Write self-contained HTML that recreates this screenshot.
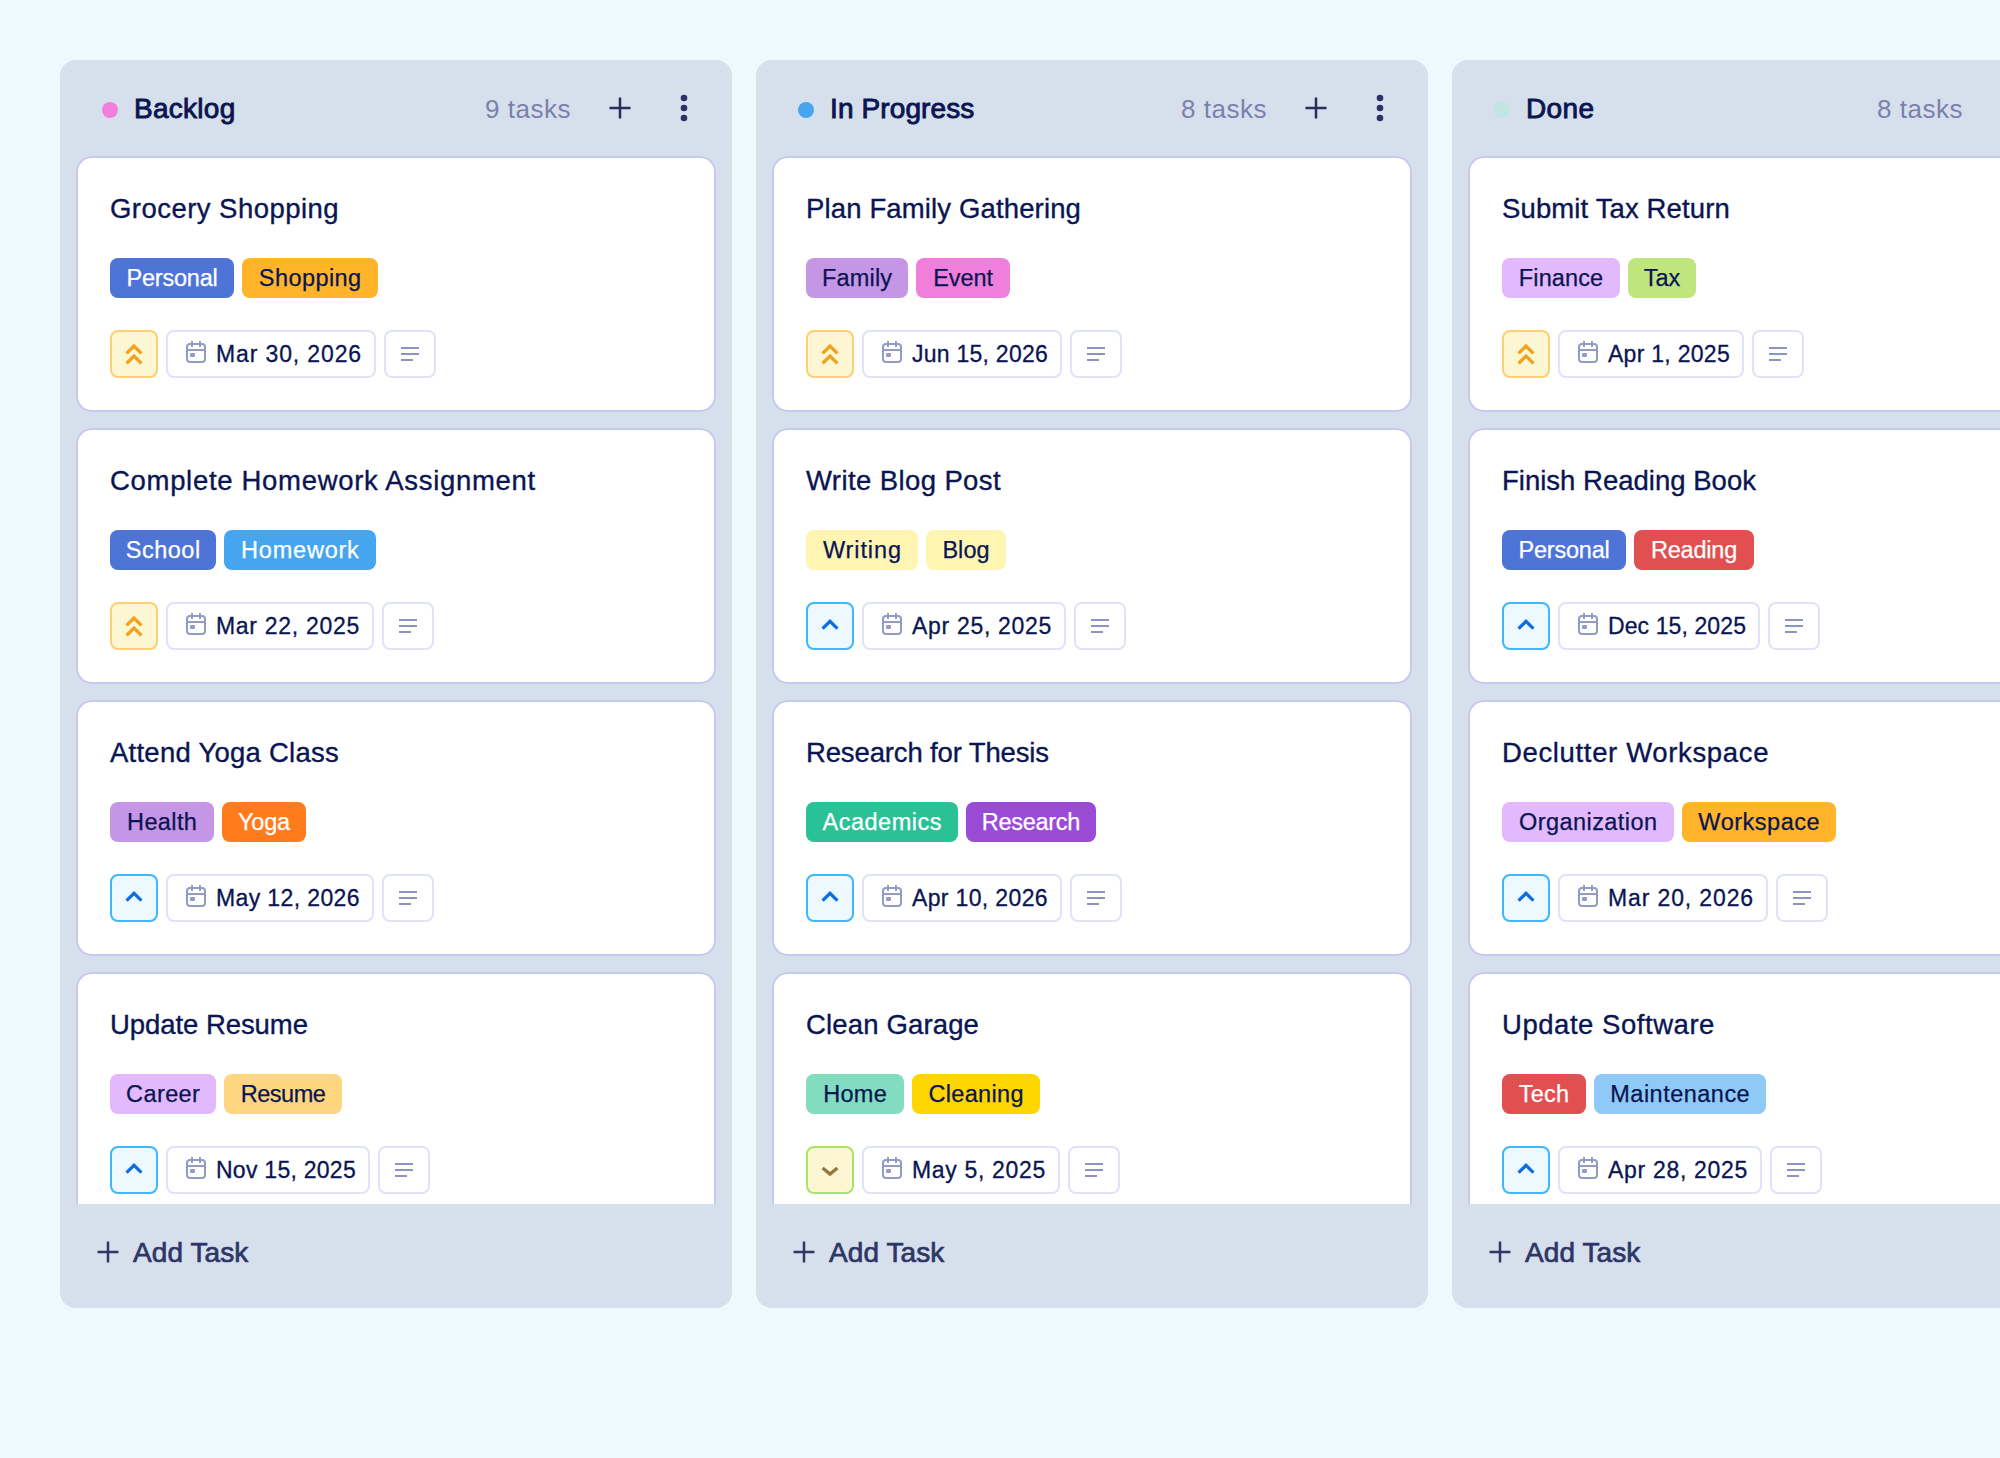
<!DOCTYPE html><html><head><meta charset="utf-8"><title>Board</title><style>
*{box-sizing:border-box;margin:0;padding:0}
html,body{width:2000px;height:1458px;overflow:hidden;background:#edf8ff}
body{font-family:"Liberation Sans",sans-serif;color:#0a1551;position:relative}
.page{position:absolute;left:0;top:0;width:2000px;height:1458px;overflow:hidden;background:#edf8ff}
.col{position:absolute;top:60px;width:672px;height:1248px;background:#d6e0ec;border-radius:16px;overflow:hidden}
.head{position:relative;height:96px}
.dot{position:absolute;left:42px;top:42px;width:16px;height:16px;border-radius:50%}
.name{position:absolute;left:74px;top:29px;height:40px;line-height:40px;font-size:28px;white-space:nowrap;-webkit-text-stroke:0.9px #0a1551}
.count{position:absolute;left:425px;top:29px;height:40px;line-height:40px;font-size:26px;color:#7a81ae;white-space:nowrap}
.hplus{position:absolute;left:548px;top:36px}
.hdots{position:absolute;left:620px;top:34px}
.cards{height:1048px;overflow:hidden;padding:0 16px}
.card{position:relative;height:256px;border:2px solid #c6cbee;border-radius:16px;background:#fff;margin-bottom:16px}
.title{position:absolute;left:32px;top:31px;height:40px;line-height:40px;font-size:27.5px;white-space:nowrap;-webkit-text-stroke:0.35px #0a1551}
.tags{position:absolute;left:32px;top:100px;display:flex;gap:8px}
.tag{height:40px;line-height:41px;border-radius:8px;font-size:23.5px;text-align:center;white-space:nowrap;-webkit-text-stroke:0.25px}
.meta{position:absolute;left:32px;top:172px;display:flex;gap:8px;height:48px}
.pri{width:48px;height:48px;border:2px solid;border-radius:8px}
.pri svg{display:block}
.pri.high{background:#fdf6d3;border-color:#ffd071}
.pri.med{background:#eef8ff;border-color:#40b6fb}
.pri.low{background:#fdf6d3;border-color:#abe36a}
.date{position:relative;height:48px;border:2px solid #e0e3f7;border-radius:8px;background:#fff}
.date .cal{position:absolute;left:16px;top:8px}
.date span{position:absolute;left:48px;top:4px;height:36px;line-height:37px;font-size:23px;white-space:nowrap;-webkit-text-stroke:0.3px #0a1551}
.desc{width:52px;height:48px;border:2px solid #e0e3f7;border-radius:8px;background:#fff}
.desc svg{display:block}
.foot{position:relative;height:104px}
.fplus{position:absolute;left:36px;top:36px}
.add{position:absolute;left:73px;top:29px;height:40px;line-height:40px;font-size:28px;color:#2e3667;white-space:nowrap;-webkit-text-stroke:0.7px #2e3667}
</style></head><body><div class="page">
<div class="col" style="left:60px">
<div class="head"><span class="dot" style="background:#f27fdc"></span><span class="name" style="letter-spacing:0.27px">Backlog</span><span class="count" style="letter-spacing:0.52px">9 tasks</span><svg class="hplus" width="24" height="24" viewBox="0 0 24 24"><path d="M12 1.5v21M1.5 12h21" stroke="#262e5c" stroke-width="2.5" fill="none"/></svg><svg class="hdots" width="8" height="28" viewBox="0 0 8 28" fill="#2b3265"><circle cx="4" cy="4" r="3.3"/><circle cx="4" cy="14" r="3.3"/><circle cx="4" cy="24" r="3.3"/></svg></div>
<div class="cards">
<div class="card">
<div class="title" style="letter-spacing:0.46px">Grocery Shopping</div>
<div class="tags">
<span class="tag" style="width:124px;background:#4f74d8;color:#fff;letter-spacing:-0.21px;padding-left:-0.21px">Personal</span>
<span class="tag" style="width:136px;background:#ffb42a;color:#0a1551;letter-spacing:0.43px;padding-left:0.43px">Shopping</span>
</div>
<div class="meta"><div class="pri high"><svg width="44" height="44" viewBox="0 0 44 44" fill="none" stroke="#efa31a" stroke-width="3.3" stroke-linecap="butt" stroke-linejoin="miter"><path d="M14.6 21.3L22 14L29.4 21.3M14.6 31.3L22 24L29.4 31.3"/></svg></div><div class="date" style="width:210px"><svg class="cal" width="24" height="24" viewBox="0 0 24 24" fill="none" stroke="#949bc7" stroke-width="2"><rect x="3" y="4" width="18" height="18" rx="3"/><path d="M8 1v6M16 1v6M3 10h18" stroke-linecap="butt"/><rect x="6" y="13" width="5" height="4" rx="1" fill="#949bc7" stroke="none"/></svg><span style="letter-spacing:0.87px">Mar 30, 2026</span></div><div class="desc"><svg width="48" height="44" viewBox="0 0 48 44"><path d="M15 16h18M15 22h18M15 28h12" stroke="#8d94c2" stroke-width="1.9" fill="none"/></svg></div></div>
</div>
<div class="card">
<div class="title" style="letter-spacing:0.69px">Complete Homework Assignment</div>
<div class="tags">
<span class="tag" style="width:106px;background:#4f74d8;color:#fff;letter-spacing:0.49px;padding-left:0.49px">School</span>
<span class="tag" style="width:152px;background:#45a6ef;color:#fff;letter-spacing:0.78px;padding-left:0.78px">Homework</span>
</div>
<div class="meta"><div class="pri high"><svg width="44" height="44" viewBox="0 0 44 44" fill="none" stroke="#efa31a" stroke-width="3.3" stroke-linecap="butt" stroke-linejoin="miter"><path d="M14.6 21.3L22 14L29.4 21.3M14.6 31.3L22 24L29.4 31.3"/></svg></div><div class="date" style="width:208px"><svg class="cal" width="24" height="24" viewBox="0 0 24 24" fill="none" stroke="#949bc7" stroke-width="2"><rect x="3" y="4" width="18" height="18" rx="3"/><path d="M8 1v6M16 1v6M3 10h18" stroke-linecap="butt"/><rect x="6" y="13" width="5" height="4" rx="1" fill="#949bc7" stroke="none"/></svg><span style="letter-spacing:0.7px">Mar 22, 2025</span></div><div class="desc"><svg width="48" height="44" viewBox="0 0 48 44"><path d="M15 16h18M15 22h18M15 28h12" stroke="#8d94c2" stroke-width="1.9" fill="none"/></svg></div></div>
</div>
<div class="card">
<div class="title" style="letter-spacing:0.25px">Attend Yoga Class</div>
<div class="tags">
<span class="tag" style="width:104px;background:#c696e6;color:#0a1551;letter-spacing:0.39px;padding-left:0.39px">Health</span>
<span class="tag" style="width:84px;background:#ff7b1c;color:#fff;letter-spacing:-0.18px;padding-left:-0.18px">Yoga</span>
</div>
<div class="meta"><div class="pri med"><svg width="44" height="44" viewBox="0 0 44 44" fill="none" stroke="#0b6fde" stroke-width="3.3" stroke-linecap="butt" stroke-linejoin="miter"><path d="M14.6 24.7L22 17.4L29.4 24.7"/></svg></div><div class="date" style="width:208px"><svg class="cal" width="24" height="24" viewBox="0 0 24 24" fill="none" stroke="#949bc7" stroke-width="2"><rect x="3" y="4" width="18" height="18" rx="3"/><path d="M8 1v6M16 1v6M3 10h18" stroke-linecap="butt"/><rect x="6" y="13" width="5" height="4" rx="1" fill="#949bc7" stroke="none"/></svg><span style="letter-spacing:0.38px">May 12, 2026</span></div><div class="desc"><svg width="48" height="44" viewBox="0 0 48 44"><path d="M15 16h18M15 22h18M15 28h12" stroke="#8d94c2" stroke-width="1.9" fill="none"/></svg></div></div>
</div>
<div class="card">
<div class="title" style="letter-spacing:-0.06px">Update Resume</div>
<div class="tags">
<span class="tag" style="width:106px;background:#e2b9fc;color:#0a1551;letter-spacing:0.41px;padding-left:0.41px">Career</span>
<span class="tag" style="width:118px;background:#ffd680;color:#0a1551;letter-spacing:-0.46px;padding-left:-0.46px">Resume</span>
</div>
<div class="meta"><div class="pri med"><svg width="44" height="44" viewBox="0 0 44 44" fill="none" stroke="#0b6fde" stroke-width="3.3" stroke-linecap="butt" stroke-linejoin="miter"><path d="M14.6 24.7L22 17.4L29.4 24.7"/></svg></div><div class="date" style="width:204px"><svg class="cal" width="24" height="24" viewBox="0 0 24 24" fill="none" stroke="#949bc7" stroke-width="2"><rect x="3" y="4" width="18" height="18" rx="3"/><path d="M8 1v6M16 1v6M3 10h18" stroke-linecap="butt"/><rect x="6" y="13" width="5" height="4" rx="1" fill="#949bc7" stroke="none"/></svg><span style="letter-spacing:0.26px">Nov 15, 2025</span></div><div class="desc"><svg width="48" height="44" viewBox="0 0 48 44"><path d="M15 16h18M15 22h18M15 28h12" stroke="#8d94c2" stroke-width="1.9" fill="none"/></svg></div></div>
</div>
</div>
<div class="foot"><svg class="fplus" width="24" height="24" viewBox="0 0 24 24"><path d="M12 1.5v21M1.5 12h21" stroke="#2e3667" stroke-width="2.5" fill="none"/></svg><span class="add" style="letter-spacing:0.1px">Add Task</span></div>
</div>
<div class="col" style="left:756px">
<div class="head"><span class="dot" style="background:#45a6ef"></span><span class="name" style="letter-spacing:0.12px">In Progress</span><span class="count" style="letter-spacing:0.52px">8 tasks</span><svg class="hplus" width="24" height="24" viewBox="0 0 24 24"><path d="M12 1.5v21M1.5 12h21" stroke="#262e5c" stroke-width="2.5" fill="none"/></svg><svg class="hdots" width="8" height="28" viewBox="0 0 8 28" fill="#2b3265"><circle cx="4" cy="4" r="3.3"/><circle cx="4" cy="14" r="3.3"/><circle cx="4" cy="24" r="3.3"/></svg></div>
<div class="cards">
<div class="card">
<div class="title" style="letter-spacing:0.14px">Plan Family Gathering</div>
<div class="tags">
<span class="tag" style="width:102px;background:#c696e6;color:#0a1551;letter-spacing:0.18px;padding-left:0.18px">Family</span>
<span class="tag" style="width:94px;background:#f07fdc;color:#0a1551;letter-spacing:-0.07px;padding-left:-0.07px">Event</span>
</div>
<div class="meta"><div class="pri high"><svg width="44" height="44" viewBox="0 0 44 44" fill="none" stroke="#efa31a" stroke-width="3.3" stroke-linecap="butt" stroke-linejoin="miter"><path d="M14.6 21.3L22 14L29.4 21.3M14.6 31.3L22 24L29.4 31.3"/></svg></div><div class="date" style="width:200px"><svg class="cal" width="24" height="24" viewBox="0 0 24 24" fill="none" stroke="#949bc7" stroke-width="2"><rect x="3" y="4" width="18" height="18" rx="3"/><path d="M8 1v6M16 1v6M3 10h18" stroke-linecap="butt"/><rect x="6" y="13" width="5" height="4" rx="1" fill="#949bc7" stroke="none"/></svg><span style="letter-spacing:0.25px">Jun 15, 2026</span></div><div class="desc"><svg width="48" height="44" viewBox="0 0 48 44"><path d="M15 16h18M15 22h18M15 28h12" stroke="#8d94c2" stroke-width="1.9" fill="none"/></svg></div></div>
</div>
<div class="card">
<div class="title" style="letter-spacing:0.4px">Write Blog Post</div>
<div class="tags">
<span class="tag" style="width:112px;background:#fff5b3;color:#0a1551;letter-spacing:0.9px;padding-left:0.9px">Writing</span>
<span class="tag" style="width:80px;background:#fff5b3;color:#0a1551;letter-spacing:0.06px;padding-left:0.06px">Blog</span>
</div>
<div class="meta"><div class="pri med"><svg width="44" height="44" viewBox="0 0 44 44" fill="none" stroke="#0b6fde" stroke-width="3.3" stroke-linecap="butt" stroke-linejoin="miter"><path d="M14.6 24.7L22 17.4L29.4 24.7"/></svg></div><div class="date" style="width:204px"><svg class="cal" width="24" height="24" viewBox="0 0 24 24" fill="none" stroke="#949bc7" stroke-width="2"><rect x="3" y="4" width="18" height="18" rx="3"/><path d="M8 1v6M16 1v6M3 10h18" stroke-linecap="butt"/><rect x="6" y="13" width="5" height="4" rx="1" fill="#949bc7" stroke="none"/></svg><span style="letter-spacing:0.69px">Apr 25, 2025</span></div><div class="desc"><svg width="48" height="44" viewBox="0 0 48 44"><path d="M15 16h18M15 22h18M15 28h12" stroke="#8d94c2" stroke-width="1.9" fill="none"/></svg></div></div>
</div>
<div class="card">
<div class="title" style="letter-spacing:-0.14px">Research for Thesis</div>
<div class="tags">
<span class="tag" style="width:152px;background:#2bc196;color:#fff;letter-spacing:0.48px;padding-left:0.48px">Academics</span>
<span class="tag" style="width:130px;background:#9a4bd6;color:#fff;letter-spacing:-0.29px;padding-left:-0.29px">Research</span>
</div>
<div class="meta"><div class="pri med"><svg width="44" height="44" viewBox="0 0 44 44" fill="none" stroke="#0b6fde" stroke-width="3.3" stroke-linecap="butt" stroke-linejoin="miter"><path d="M14.6 24.7L22 17.4L29.4 24.7"/></svg></div><div class="date" style="width:200px"><svg class="cal" width="24" height="24" viewBox="0 0 24 24" fill="none" stroke="#949bc7" stroke-width="2"><rect x="3" y="4" width="18" height="18" rx="3"/><path d="M8 1v6M16 1v6M3 10h18" stroke-linecap="butt"/><rect x="6" y="13" width="5" height="4" rx="1" fill="#949bc7" stroke="none"/></svg><span style="letter-spacing:0.35px">Apr 10, 2026</span></div><div class="desc"><svg width="48" height="44" viewBox="0 0 48 44"><path d="M15 16h18M15 22h18M15 28h12" stroke="#8d94c2" stroke-width="1.9" fill="none"/></svg></div></div>
</div>
<div class="card">
<div class="title" style="letter-spacing:0.15px">Clean Garage</div>
<div class="tags">
<span class="tag" style="width:98px;background:#82dcc0;color:#0a1551;letter-spacing:0.26px;padding-left:0.26px">Home</span>
<span class="tag" style="width:128px;background:#ffd600;color:#0a1551;letter-spacing:0.34px;padding-left:0.34px">Cleaning</span>
</div>
<div class="meta"><div class="pri low"><svg width="44" height="44" viewBox="0 0 44 44" fill="none" stroke="#967640" stroke-width="3.3" stroke-linecap="butt" stroke-linejoin="miter"><path d="M14.6 19.9L22 26.1L29.4 19.9"/></svg></div><div class="date" style="width:198px"><svg class="cal" width="24" height="24" viewBox="0 0 24 24" fill="none" stroke="#949bc7" stroke-width="2"><rect x="3" y="4" width="18" height="18" rx="3"/><path d="M8 1v6M16 1v6M3 10h18" stroke-linecap="butt"/><rect x="6" y="13" width="5" height="4" rx="1" fill="#949bc7" stroke="none"/></svg><span style="letter-spacing:0.67px">May 5, 2025</span></div><div class="desc"><svg width="48" height="44" viewBox="0 0 48 44"><path d="M15 16h18M15 22h18M15 28h12" stroke="#8d94c2" stroke-width="1.9" fill="none"/></svg></div></div>
</div>
</div>
<div class="foot"><svg class="fplus" width="24" height="24" viewBox="0 0 24 24"><path d="M12 1.5v21M1.5 12h21" stroke="#2e3667" stroke-width="2.5" fill="none"/></svg><span class="add" style="letter-spacing:0.1px">Add Task</span></div>
</div>
<div class="col" style="left:1452px">
<div class="head"><span class="dot" style="background:#c1e4e4"></span><span class="name" style="letter-spacing:0.39px">Done</span><span class="count" style="letter-spacing:0.52px">8 tasks</span><svg class="hplus" width="24" height="24" viewBox="0 0 24 24"><path d="M12 1.5v21M1.5 12h21" stroke="#262e5c" stroke-width="2.5" fill="none"/></svg><svg class="hdots" width="8" height="28" viewBox="0 0 8 28" fill="#2b3265"><circle cx="4" cy="4" r="3.3"/><circle cx="4" cy="14" r="3.3"/><circle cx="4" cy="24" r="3.3"/></svg></div>
<div class="cards">
<div class="card">
<div class="title" style="letter-spacing:0.13px">Submit Tax Return</div>
<div class="tags">
<span class="tag" style="width:118px;background:#e2b9fc;color:#0a1551;letter-spacing:0.12px;padding-left:0.12px">Finance</span>
<span class="tag" style="width:68px;background:#bfe67c;color:#0a1551;letter-spacing:-0.05px;padding-left:-0.05px">Tax</span>
</div>
<div class="meta"><div class="pri high"><svg width="44" height="44" viewBox="0 0 44 44" fill="none" stroke="#efa31a" stroke-width="3.3" stroke-linecap="butt" stroke-linejoin="miter"><path d="M14.6 21.3L22 14L29.4 21.3M14.6 31.3L22 24L29.4 31.3"/></svg></div><div class="date" style="width:186px"><svg class="cal" width="24" height="24" viewBox="0 0 24 24" fill="none" stroke="#949bc7" stroke-width="2"><rect x="3" y="4" width="18" height="18" rx="3"/><path d="M8 1v6M16 1v6M3 10h18" stroke-linecap="butt"/><rect x="6" y="13" width="5" height="4" rx="1" fill="#949bc7" stroke="none"/></svg><span style="letter-spacing:0.28px">Apr 1, 2025</span></div><div class="desc"><svg width="48" height="44" viewBox="0 0 48 44"><path d="M15 16h18M15 22h18M15 28h12" stroke="#8d94c2" stroke-width="1.9" fill="none"/></svg></div></div>
</div>
<div class="card">
<div class="title" style="letter-spacing:0.01px">Finish Reading Book</div>
<div class="tags">
<span class="tag" style="width:124px;background:#4f74d8;color:#fff;letter-spacing:-0.21px;padding-left:-0.21px">Personal</span>
<span class="tag" style="width:120px;background:#e14f51;color:#fff;letter-spacing:-0.21px;padding-left:-0.21px">Reading</span>
</div>
<div class="meta"><div class="pri med"><svg width="44" height="44" viewBox="0 0 44 44" fill="none" stroke="#0b6fde" stroke-width="3.3" stroke-linecap="butt" stroke-linejoin="miter"><path d="M14.6 24.7L22 17.4L29.4 24.7"/></svg></div><div class="date" style="width:202px"><svg class="cal" width="24" height="24" viewBox="0 0 24 24" fill="none" stroke="#949bc7" stroke-width="2"><rect x="3" y="4" width="18" height="18" rx="3"/><path d="M8 1v6M16 1v6M3 10h18" stroke-linecap="butt"/><rect x="6" y="13" width="5" height="4" rx="1" fill="#949bc7" stroke="none"/></svg><span style="letter-spacing:0.1px">Dec 15, 2025</span></div><div class="desc"><svg width="48" height="44" viewBox="0 0 48 44"><path d="M15 16h18M15 22h18M15 28h12" stroke="#8d94c2" stroke-width="1.9" fill="none"/></svg></div></div>
</div>
<div class="card">
<div class="title" style="letter-spacing:0.65px">Declutter Workspace</div>
<div class="tags">
<span class="tag" style="width:172px;background:#e2b9fc;color:#0a1551;letter-spacing:0.44px;padding-left:0.44px">Organization</span>
<span class="tag" style="width:154px;background:#ffb42a;color:#0a1551;letter-spacing:0.52px;padding-left:0.52px">Workspace</span>
</div>
<div class="meta"><div class="pri med"><svg width="44" height="44" viewBox="0 0 44 44" fill="none" stroke="#0b6fde" stroke-width="3.3" stroke-linecap="butt" stroke-linejoin="miter"><path d="M14.6 24.7L22 17.4L29.4 24.7"/></svg></div><div class="date" style="width:210px"><svg class="cal" width="24" height="24" viewBox="0 0 24 24" fill="none" stroke="#949bc7" stroke-width="2"><rect x="3" y="4" width="18" height="18" rx="3"/><path d="M8 1v6M16 1v6M3 10h18" stroke-linecap="butt"/><rect x="6" y="13" width="5" height="4" rx="1" fill="#949bc7" stroke="none"/></svg><span style="letter-spacing:0.87px">Mar 20, 2026</span></div><div class="desc"><svg width="48" height="44" viewBox="0 0 48 44"><path d="M15 16h18M15 22h18M15 28h12" stroke="#8d94c2" stroke-width="1.9" fill="none"/></svg></div></div>
</div>
<div class="card">
<div class="title" style="letter-spacing:0.54px">Update Software</div>
<div class="tags">
<span class="tag" style="width:84px;background:#e14f51;color:#fff;letter-spacing:0.22px;padding-left:0.22px">Tech</span>
<span class="tag" style="width:172px;background:#8fc9f6;color:#0a1551;letter-spacing:0.48px;padding-left:0.48px">Maintenance</span>
</div>
<div class="meta"><div class="pri med"><svg width="44" height="44" viewBox="0 0 44 44" fill="none" stroke="#0b6fde" stroke-width="3.3" stroke-linecap="butt" stroke-linejoin="miter"><path d="M14.6 24.7L22 17.4L29.4 24.7"/></svg></div><div class="date" style="width:204px"><svg class="cal" width="24" height="24" viewBox="0 0 24 24" fill="none" stroke="#949bc7" stroke-width="2"><rect x="3" y="4" width="18" height="18" rx="3"/><path d="M8 1v6M16 1v6M3 10h18" stroke-linecap="butt"/><rect x="6" y="13" width="5" height="4" rx="1" fill="#949bc7" stroke="none"/></svg><span style="letter-spacing:0.69px">Apr 28, 2025</span></div><div class="desc"><svg width="48" height="44" viewBox="0 0 48 44"><path d="M15 16h18M15 22h18M15 28h12" stroke="#8d94c2" stroke-width="1.9" fill="none"/></svg></div></div>
</div>
</div>
<div class="foot"><svg class="fplus" width="24" height="24" viewBox="0 0 24 24"><path d="M12 1.5v21M1.5 12h21" stroke="#2e3667" stroke-width="2.5" fill="none"/></svg><span class="add" style="letter-spacing:0.1px">Add Task</span></div>
</div>
</div>
<script>(function(){var w=window.innerWidth;if(w&&Math.abs(w-2000)>24){document.documentElement.style.zoom=w/2000;}})();</script>
</body></html>
